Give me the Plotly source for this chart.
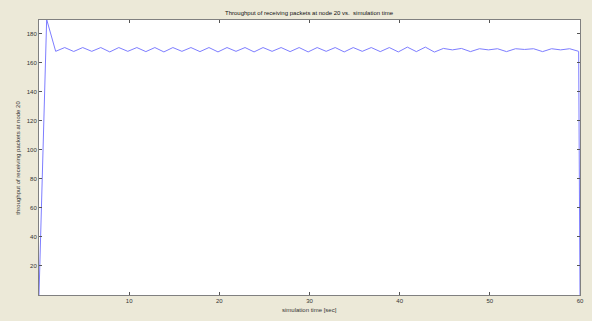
import plotly.graph_objects as go

# simulation time samples [sec]
time_sec = [0, 0.85, 1.85, 2.85, 3.85, 4.85, 5.85, 6.85, 7.85, 8.85, 9.85,
            10.85, 11.85, 12.85, 13.85, 14.85, 15.85, 16.85, 17.85, 18.85, 19.85,
            20.85, 21.85, 22.85, 23.85, 24.85, 25.85, 26.85, 27.85, 28.85, 29.85,
            30.85, 31.85, 32.85, 33.85, 34.85, 35.85, 36.85, 37.85, 38.85, 39.85,
            40.85, 41.85, 42.85, 43.85, 44.85, 45.85, 46.85, 47.85, 48.85, 49.85,
            50.85, 51.85, 52.85, 53.85, 54.85, 55.85, 56.85, 57.85, 58.85, 59.85,
            60]

# throughput of receiving packets at node 20
throughput = [0, 190, 168, 170.6, 167.9, 170.6, 168, 170.6, 167.6, 170.6, 168,
              170.6, 167.8, 170.6, 167.6, 170.6, 168, 170.6, 167.8, 170.6, 167.6,
              170.6, 168, 170.6, 167.6, 170.6, 168, 170.6, 167.8, 170.6, 167.6,
              170.6, 168, 170.6, 167.6, 170.6, 168, 170.6, 167.8, 170.6, 167.6,
              170.9, 167.8, 170.9, 167.5, 170, 169, 170, 167.8, 169.8, 169,
              169.8, 167.8, 169.8, 169.3, 169.8, 167.8, 169.8, 169, 169.8, 168,
              0]

x_ticks = [10, 20, 30, 40, 50, 60]
y_ticks = [20, 40, 60, 80, 100, 120, 140, 160, 180]

title_text = "Throughput of receiving packets at node 20 vs.  simulation time"
x_label = "simulation time [sec]"
y_label = "throughput of receiving packets at node 20"

font_family = "Liberation Sans, Arial, sans-serif"
txt_color = "#333333"

fig = go.Figure()
fig.add_trace(go.Scatter(
    x=time_sec, y=throughput, mode="lines",
    line=dict(color="rgb(125,125,255)", width=1),
    hoverinfo="skip", showlegend=False,
))

axis_common = dict(
    showgrid=False, zeroline=False, showline=True, linecolor="#808080",
    linewidth=1, mirror="ticks", ticks="inside", ticklen=3, tickwidth=1,
    tickcolor="#555555", tickfont=dict(size=6, color=txt_color, family=font_family),
)

fig.update_layout(
    width=592, height=321,
    margin=dict(l=39, r=8, t=20, b=26),
    paper_bgcolor="#ECE9D8", plot_bgcolor="#FFFFFF",
    xaxis=dict(range=[0, 60], tickvals=x_ticks, **axis_common),
    yaxis=dict(range=[0, 189.6], tickvals=y_ticks, **axis_common),
    annotations=[
        dict(text=title_text, xref="paper", yref="paper", x=0.5, y=1 + 7 / 275,
             xanchor="center", yanchor="middle", showarrow=False,
             font=dict(size=6, color="#111111", family=font_family)),
        dict(text=x_label, xref="paper", yref="paper", x=0.5, y=-15 / 275,
             xanchor="center", yanchor="middle", showarrow=False,
             font=dict(size=6, color=txt_color, family=font_family)),
        dict(text=y_label, xref="paper", yref="paper", x=-22 / 545, y=0.5,
             xanchor="center", yanchor="middle", showarrow=False, textangle=-90,
             font=dict(size=6, color=txt_color, family=font_family)),
    ],
)

fig.write_html("out.html")
